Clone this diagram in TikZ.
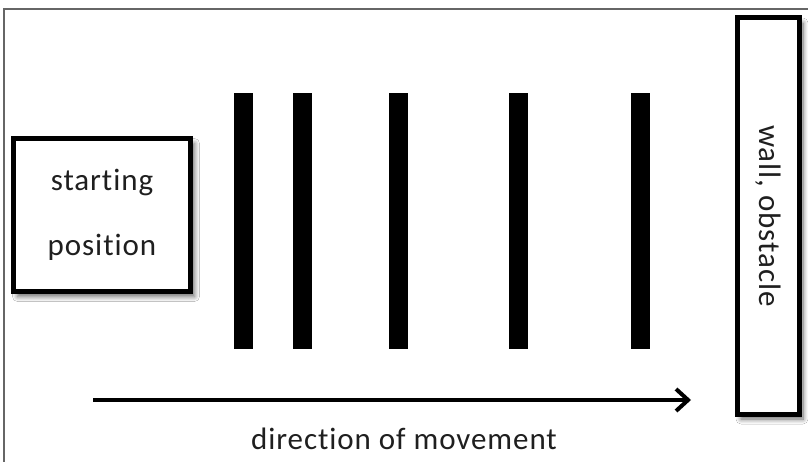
\documentclass[tikz,border=0pt]{standalone}
\usepackage{fontspec}
\setmainfont{Carlito}[Ligatures=NoCommon, LetterSpace=3]
\usetikzlibrary{arrows.meta,shadows.blur}
\begin{document}
\begin{tikzpicture}[x=1pt,y=-1pt,
  box/.style={draw=black, line width=5pt, fill=white, inner sep=0pt,
    blur shadow={shadow xshift=4pt, shadow yshift=-5pt, shadow blur steps=8, shadow blur radius=5pt, shadow opacity=60}},
  bar/.style={fill=black, draw=none, inner sep=0pt, minimum width=19pt, minimum height=256pt},
  lbl/.style={font=\fontsize{31}{37}\selectfont, text=black!88, inner sep=0pt},
  frameline/.style={line width=1.5pt, black!60}]
\useasboundingbox (0,0) rectangle (808,462);
\fill[white] (0,0) rectangle (808,462);
\draw[frameline] (4,462) |- (808,9);
% starting position
\node[box, lbl, minimum width=177pt, minimum height=153pt, align=center] (start) at (102,215)
  {starting\\[28pt]position};
% wall
\node[box, minimum width=62pt, minimum height=396pt] (wall) at (768,216) {};
\node[lbl, rotate=-90] (walltext) at (wall.center) {wall, obstacle};
% bars
\node[bar] (b1) at (243.5,221) {};
\node[bar] (b2) at (302.5,221) {};
\node[bar] (b3) at (398.5,221) {};
\node[bar] (b4) at (518,221) {};
\node[bar] (b5) at (640.5,221) {};
% arrow
\coordinate (as) at (93,400);
\coordinate (ae) at (691,400);
\draw[line width=4pt, -{Straight Barb[length=12pt, width=22pt]}] (as) -- (ae);
\node[lbl] (dir) at (404,439) {direction of movement};
\end{tikzpicture}
\end{document}
